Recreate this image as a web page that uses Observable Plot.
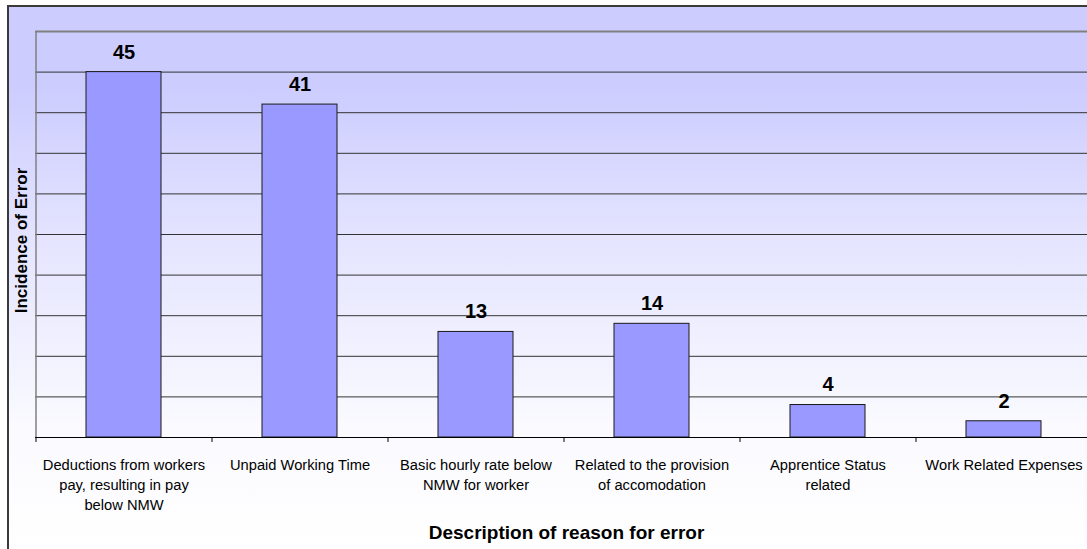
<!DOCTYPE html>
<html><head><meta charset="utf-8">
<script src="https://cdn.jsdelivr.net/npm/d3@7"></script>
<script src="https://cdn.jsdelivr.net/npm/@observablehq/plot@0.6"></script>
<style>
body{margin:0;background:#fff;}
#wrap{position:relative;width:1087px;height:549px;overflow:hidden;background:#fff;}
#frame{position:absolute;left:7px;top:5px;width:1110px;height:570px;border:2px solid #3a3a3a;box-sizing:border-box;
  background:linear-gradient(#ccccff 0px,#ccccff 80px,#e4e4ff 230px,#fafaff 420px,#ffffff 540px);}
#chart{position:absolute;left:0;top:0;}
</style></head><body>
<div id="wrap"><div id="frame"></div><div id="chart"></div></div>
<script>
const categories = [
  "Deductions from workers pay, resulting in pay below NMW",
  "Unpaid Working Time",
  "Basic hourly rate below NMW for worker",
  "Related to the provision of accomodation",
  "Apprentice Status related",
  "Work Related Expenses"
];
const tickLabels = [
  "Deductions from workers\npay, resulting in pay\nbelow NMW",
  "Unpaid Working Time",
  "Basic hourly rate below\nNMW for worker",
  "Related to the provision\nof accomodation",
  "Apprentice Status\nrelated",
  "Work Related Expenses"
];
const values = [45, 41, 13, 14, 4, 2];
const gridValues = [5, 10, 15, 20, 25, 30, 35, 40, 45];
const yMax = 50;
const xTitle = "Description of reason for error";
const yTitle = "Incidence of Error";

const data = categories.map((c, i) => ({category: c, value: values[i]}));
const xRange = [35, 1091];
const half = (xRange[1] - xRange[0]) / categories.length / 2;
const font = "'Liberation Sans', Arial, sans-serif";

const chart = Plot.plot({
  width: 1087, height: 549,
  marginLeft: 35, marginTop: 31, marginBottom: 112, marginRight: 0,
  style: {background: "transparent", fontFamily: font, overflow: "visible"},
  x: {domain: categories, range: xRange, paddingInner: 0.574, paddingOuter: 0.287, align: 0.5, axis: null},
  y: {domain: [0, yMax], axis: null},
  marks: [
    Plot.ruleY(gridValues, {stroke: "#333", strokeWidth: 1}),
    Plot.ruleY([yMax], {stroke: "#808080", strokeWidth: 2}),
    Plot.ruleX([categories[0]], {dx: -half, y1: 0, y2: yMax, stroke: "#808080", strokeWidth: 1.5}),
    Plot.barY(data, {x: "category", y: "value", fill: "#9999ff", stroke: "#1a1a1a", strokeWidth: 1}),
    Plot.text(data, {x: "category", y: "value", text: d => String(d.value), dy: -20, lineAnchor: "middle",
      fontSize: 20, fontWeight: "bold", fill: "#000"}),
    Plot.ruleY([0], {stroke: "#000", strokeWidth: 1}),
    Plot.axisX({tickSize: 5, tickFormat: () => "", label: null, dx: -half, stroke: "#000"}),
    Plot.axisX({tickSize: 0, tickPadding: 18, label: null, tickFormat: d => tickLabels[categories.indexOf(d)],
      fontSize: 14.7, lineHeight: 20 / 14.7, fill: "#000"}),
    Plot.text([xTitle], {frameAnchor: "bottom", dy: 95, dx: 5, lineAnchor: "middle", fontSize: 19, fontWeight: "bold", fill: "#000"}),
    Plot.text([yTitle], {frameAnchor: "left", rotate: -90, dx: -13.5, dy: 6, lineAnchor: "middle", textAnchor: "middle", fontSize: 17, fontWeight: "bold", fill: "#000"})
  ]
});
document.getElementById("chart").appendChild(chart);
</script>
</body></html>
